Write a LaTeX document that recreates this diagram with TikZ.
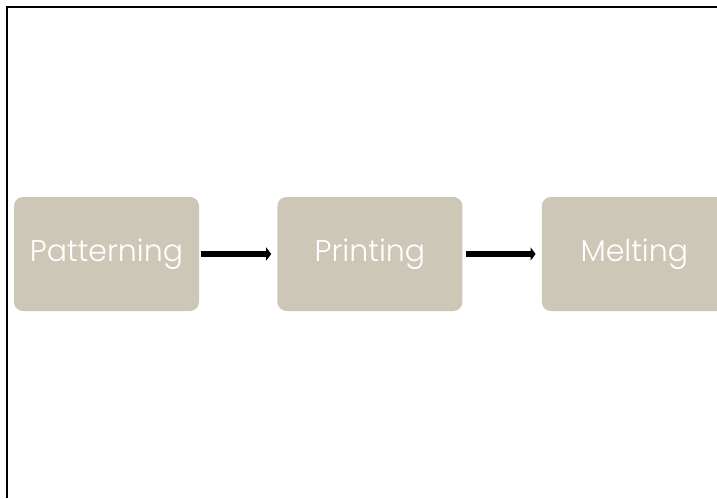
\documentclass[tikz,border=0pt]{standalone}
\usepackage{fontspec}
\setmainfont{Poppins}[UprightFont=* Light]
\usepackage{tikz}
\usetikzlibrary{positioning}
\usetikzlibrary{arrows.meta}
\definecolor{stagetan}{RGB}{205,199,183}

\begin{document}
\begin{tikzpicture}[x=1pt, y=-1pt,
    stage/.style={fill=stagetan, rounded corners=9pt, minimum width=185pt, minimum height=114pt,
      text=white, font=\fontsize{30}{33}\selectfont, inner sep=0pt},
    flow/.style={line width=6.5pt, -{Triangle[length=5pt, width=13pt]}}]
        \useasboundingbox (0,0) rectangle (717,498);
        \clip (0,0) rectangle (717,498);
        \draw[line width=1.8pt] (7,498) -- (7,7) -- (717,7); %
        \node[stage] (pattern) at (106.5,254) {Patterning} ; %
        \node[stage, right=78pt of pattern] (print) {Printing} ; %
        \node[stage, right=79pt of print] (melt) {Melting} ; %
        \draw[flow] ([xshift=2pt]pattern.east) -- ([xshift=-6pt]print.west) ; %
        \draw[flow] ([xshift=3pt]print.east) -- ([xshift=-6pt]melt.west) ; %
      \end{tikzpicture}
\end{document}
